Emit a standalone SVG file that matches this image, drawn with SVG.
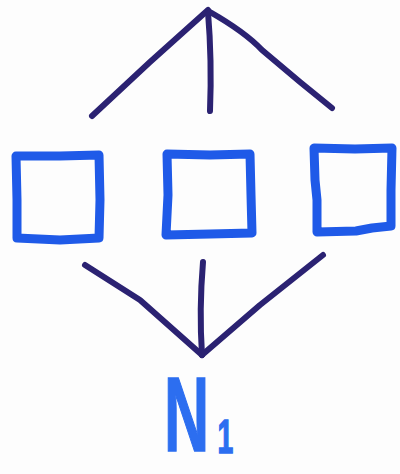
<svg xmlns="http://www.w3.org/2000/svg" width="400" height="474" viewBox="0 0 400 474">
  <style>
    .edge { fill: none; stroke: #2b2272; stroke-width: 6; stroke-linecap: round; stroke-linejoin: round; }
    .box { fill: none; stroke: #1f5ae8; stroke-width: 9; stroke-linecap: round; stroke-linejoin: round; }
    .lbl { fill: #2c6ef0; stroke: #2c6ef0; stroke-width: 1.5; font-family: "Liberation Sans", Arial, sans-serif; font-weight: bold; }
  </style>
  <rect width="400" height="474" fill="#fdfdfd"/>
  <g id="connectors">
    <path class="edge" d="M208 10 L150 62 L92 116"/>
    <path class="edge" d="M208 12 Q212 60 210 111"/>
    <path class="edge" d="M210 12 Q245 32 262 50 L300 82 L332 108"/>
    <path class="edge" d="M85 265 L140 300 L202 355"/>
    <path class="edge" d="M203 262 Q199 310 202 355"/>
    <path class="edge" d="M323 255 L260 305 L202 355"/>
  </g>
  <g id="box-left">
    <path class="box" d="M16 156 L60 156 L99 155 L100 200 L99 238 L60 240 L17 238 L17 200 Z"/>
  </g>
  <g id="box-middle">
    <path class="box" d="M167 154 L210 155 L250 154 L251 195 L252 233 L210 234 L166 235 L168 195 Z"/>
  </g>
  <g id="box-right">
    <path class="box" d="M314 148 L355 149 L392 148 L391 190 L391 226 L372 228 L356 231 L317 232 L317 200 L315 180 Z"/>
  </g>
  <g id="label-n1">
    <text class="lbl" transform="translate(164 451) scale(0.59 1)" x="0" y="0" font-size="106">N<tspan font-size="48" dx="14" dy="2">1</tspan></text>
  </g>
</svg>
